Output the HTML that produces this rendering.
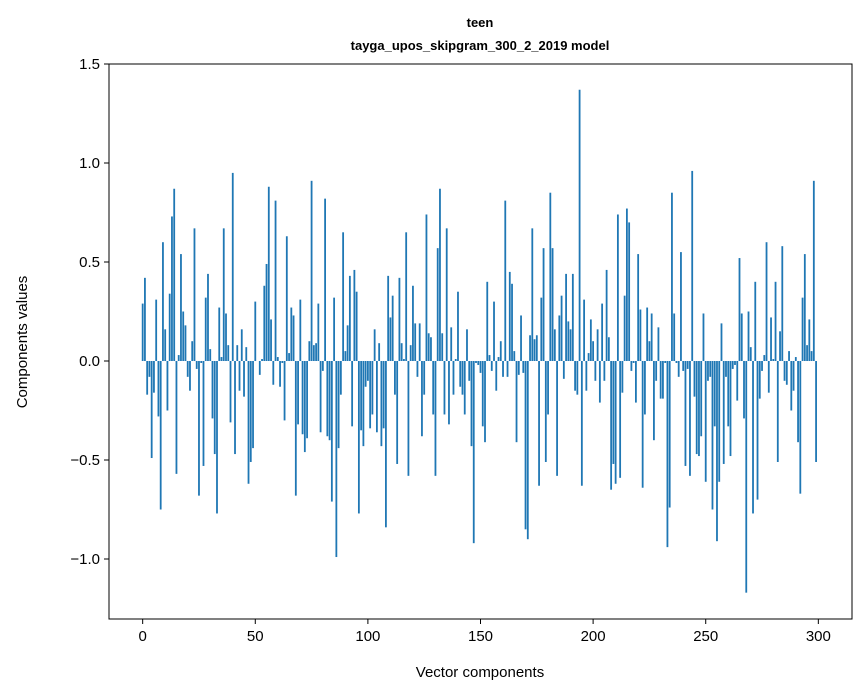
<!DOCTYPE html>
<html><head><meta charset="utf-8"><style>
body{margin:0;background:#fff;}
svg{display:block;font-family:"Liberation Sans","DejaVu Sans",sans-serif;}
</style></head><body>
<svg id="chart" width="867" height="696" viewBox="0 0 867 696" xmlns="http://www.w3.org/2000/svg">
<rect width="867" height="696" fill="#fff"/>
<text x="480" y="27" text-anchor="middle" font-size="13" font-weight="bold">teen</text>
<text x="480" y="50" text-anchor="middle" font-size="13" font-weight="bold">tayga_upos_skipgram_300_2_2019 model</text>
<g id="bars"></g>
<g id="axes"></g>
<rect x="109" y="64" width="743" height="555" fill="none" stroke="#000" stroke-width="1"/>
<text x="480" y="677" text-anchor="middle" font-size="15">Vector components</text>
<text transform="translate(27,342) rotate(-90)" text-anchor="middle" font-size="15">Components values</text>
</svg>
<script>
const values = [
0.29,0.42,-0.17,-0.08,-0.49,-0.16,0.31,-0.28,-0.75,0.60,
0.16,-0.25,0.34,0.73,0.87,-0.57,0.03,0.54,0.25,0.18,
-0.08,-0.15,0.10,0.67,-0.04,-0.68,-0.01,-0.53,0.32,0.44,
0.06,-0.29,-0.47,-0.77,0.27,0.02,0.67,0.24,0.08,-0.31,
0.95,-0.47,0.08,-0.15,0.16,-0.18,0.07,-0.62,-0.51,-0.44,
0.30,0.00,-0.07,0.01,0.38,0.49,0.88,0.21,-0.12,0.81,
0.02,-0.13,-0.01,-0.30,0.63,0.04,0.27,0.23,-0.68,-0.32,
0.31,-0.37,-0.46,-0.39,0.10,0.91,0.08,0.09,0.29,-0.36,
-0.05,0.82,-0.38,-0.40,-0.71,0.32,-0.99,-0.44,-0.17,0.65,
0.05,0.18,0.43,-0.33,0.46,0.35,-0.77,-0.35,-0.43,-0.13,
-0.10,-0.34,-0.27,0.16,-0.36,0.09,-0.43,-0.34,-0.84,0.43,
0.22,0.33,-0.17,-0.52,0.42,0.09,0.01,0.65,-0.58,0.08,
0.38,0.19,-0.08,0.19,-0.38,-0.17,0.74,0.14,0.12,-0.27,
-0.58,0.57,0.87,0.14,-0.27,0.67,-0.32,0.17,-0.17,0.01,
0.35,-0.13,-0.17,-0.27,0.16,-0.10,-0.43,-0.92,-0.01,-0.02,
-0.06,-0.33,-0.41,0.40,0.03,-0.05,0.30,-0.15,0.02,0.10,
-0.08,0.81,-0.08,0.45,0.39,0.05,-0.41,-0.07,0.23,-0.06,
-0.85,-0.90,0.13,0.67,0.11,0.13,-0.63,0.32,0.57,-0.51,
-0.27,0.85,0.57,0.16,-0.58,0.23,0.33,-0.09,0.44,0.20,
0.16,0.44,-0.15,-0.17,1.37,-0.63,0.31,-0.15,0.04,0.21,
0.10,-0.10,0.16,-0.21,0.29,-0.10,0.46,0.12,-0.65,-0.52,
-0.62,0.74,-0.59,-0.16,0.33,0.77,0.70,-0.05,-0.01,-0.21,
0.54,0.26,-0.64,-0.27,0.27,0.10,0.24,-0.40,-0.10,0.17,
-0.19,-0.19,-0.01,-0.94,-0.74,0.85,0.24,-0.01,-0.08,0.55,
-0.05,-0.53,-0.04,-0.58,0.96,-0.18,-0.47,-0.48,-0.38,0.24,
-0.61,-0.10,-0.08,-0.75,-0.33,-0.91,-0.61,0.19,-0.52,-0.08,
-0.33,-0.48,-0.04,-0.02,-0.20,0.52,0.24,-0.29,-1.17,0.25,
0.07,-0.77,0.40,-0.70,-0.19,-0.05,0.03,0.60,-0.16,0.22,
0.01,0.40,-0.51,0.15,0.58,-0.10,-0.12,0.05,-0.25,-0.15,
0.02,-0.41,-0.67,0.32,0.54,0.08,0.21,0.05,0.91,-0.51
];
const xTicks = [0,50,100,150,200,250,300];
const yTicks = [-1.0,-0.5,0.0,0.5,1.0,1.5];
const yTickLabels = ["\u22121.0","\u22120.5","0.0","0.5","1.0","1.5"];

const PL=109, PR=852, PT=64, PB=619;
const xMin=-14.95, xMax=314.95, yMin=-1.303, yMax=1.5;
function xs(v){return PL+(v-xMin)/(xMax-xMin)*(PR-PL);}
function ys(v){return PT+(yMax-v)/(yMax-yMin)*(PB-PT);}
const NS="http://www.w3.org/2000/svg";
const bars=document.getElementById('bars');
const bw=(xs(0.8)-xs(0));
values.forEach((v,i)=>{
  const r=document.createElementNS(NS,'rect');
  const y0=ys(0), y1=ys(v);
  r.setAttribute('x',xs(i)-bw/2);
  r.setAttribute('y',Math.min(y0,y1));
  r.setAttribute('width',bw);
  r.setAttribute('height',Math.max(Math.abs(y1-y0),0.01));
  r.setAttribute('fill','#1f77b4');
  
  
  bars.appendChild(r);
});
const axes=document.getElementById('axes');
xTicks.forEach(t=>{
  const x=xs(t);
  const l=document.createElementNS(NS,'line');
  l.setAttribute('x1',x);l.setAttribute('x2',x);l.setAttribute('y1',PB);l.setAttribute('y2',PB+5);
  l.setAttribute('stroke','#000');
  
  
  axes.appendChild(l);
  const tx=document.createElementNS(NS,'text');
  tx.setAttribute('x',x);tx.setAttribute('y',PB+22);tx.setAttribute('text-anchor','middle');tx.setAttribute('font-size','15');
  tx.textContent=t;
  
  
  axes.appendChild(tx);
});
yTicks.forEach((t,i)=>{
  const y=ys(t);
  const l=document.createElementNS(NS,'line');
  l.setAttribute('x1',PL-5);l.setAttribute('x2',PL);l.setAttribute('y1',y);l.setAttribute('y2',y);
  l.setAttribute('stroke','#000');
  
  
  axes.appendChild(l);
  const tx=document.createElementNS(NS,'text');
  tx.setAttribute('x',PL-9);tx.setAttribute('y',y+5);tx.setAttribute('text-anchor','end');tx.setAttribute('font-size','15');
  tx.textContent=yTickLabels[i];
  
  
  axes.appendChild(tx);
});
</script>
</body></html>
